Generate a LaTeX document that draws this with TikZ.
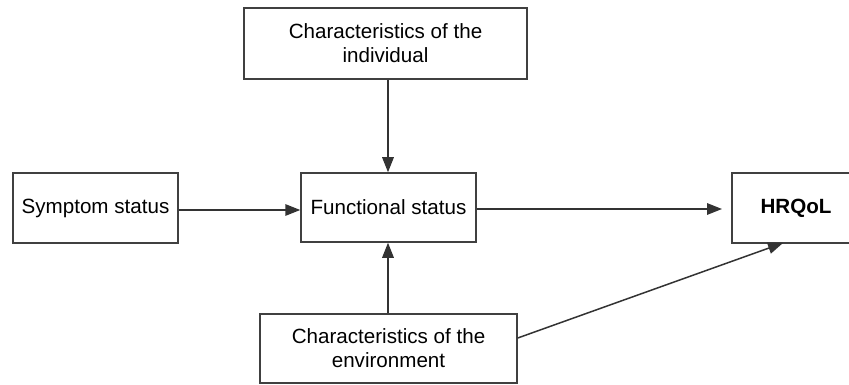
\documentclass[tikz,border=0pt]{standalone}
\usepackage{fontspec}
\setmainfont{Liberation Sans}
\usetikzlibrary{arrows.meta}
\begin{document}
\begin{tikzpicture}[x=1pt,y=-1pt,
  box/.style={draw=black!75,line width=1.5pt,inner sep=0pt,align=center,
    font=\fontsize{20.6}{24}\selectfont,text=black},
  conn/.style={draw=black!80,line width=1.5pt,-{Triangle[length=15pt,width=11.5pt]}}]
\useasboundingbox (0,0) rectangle (849,385);
\begin{scope}
\clip (0,0) rectangle (849,385);
\node[box,minimum width=283pt,minimum height=71pt] (ind) at (385.5,43.5) {Characteristics of the\\individual};
\node[box,minimum width=165pt,minimum height=70pt] (sym) at (95.5,208) {Symptom status};
\node[box,minimum width=175pt,minimum height=69pt] (fun) at (388.5,207.5) {Functional status};
\node[box,minimum width=128pt,minimum height=70pt,font=\fontsize{20.6}{24}\selectfont\bfseries] (hrq) at (796,208) {HRQoL};
\node[box,minimum width=257pt,minimum height=69pt] (env) at (388.5,348.5) {Characteristics of the\\environment};
\end{scope}
\coordinate (s1) at (sym.east |- 0,210);
\coordinate (s2) at (fun.west |- 0,210);
\coordinate (f1) at (fun.east |- 0,209);
\coordinate (f2) at (722,209);
\coordinate (e1) at (env.east |- 0,338);
\coordinate (e2) at (783,243);
\draw[conn] (ind.south -| 388,0) -- (fun.north -| 388,0);
\draw[conn] (env.north -| 388,0) -- (fun.south -| 388,0);
\draw[conn] (s1) -- (s2);
\draw[conn] (f1) -- (f2);
\draw[conn] (e1) -- (e2);
\end{tikzpicture}
\end{document}
